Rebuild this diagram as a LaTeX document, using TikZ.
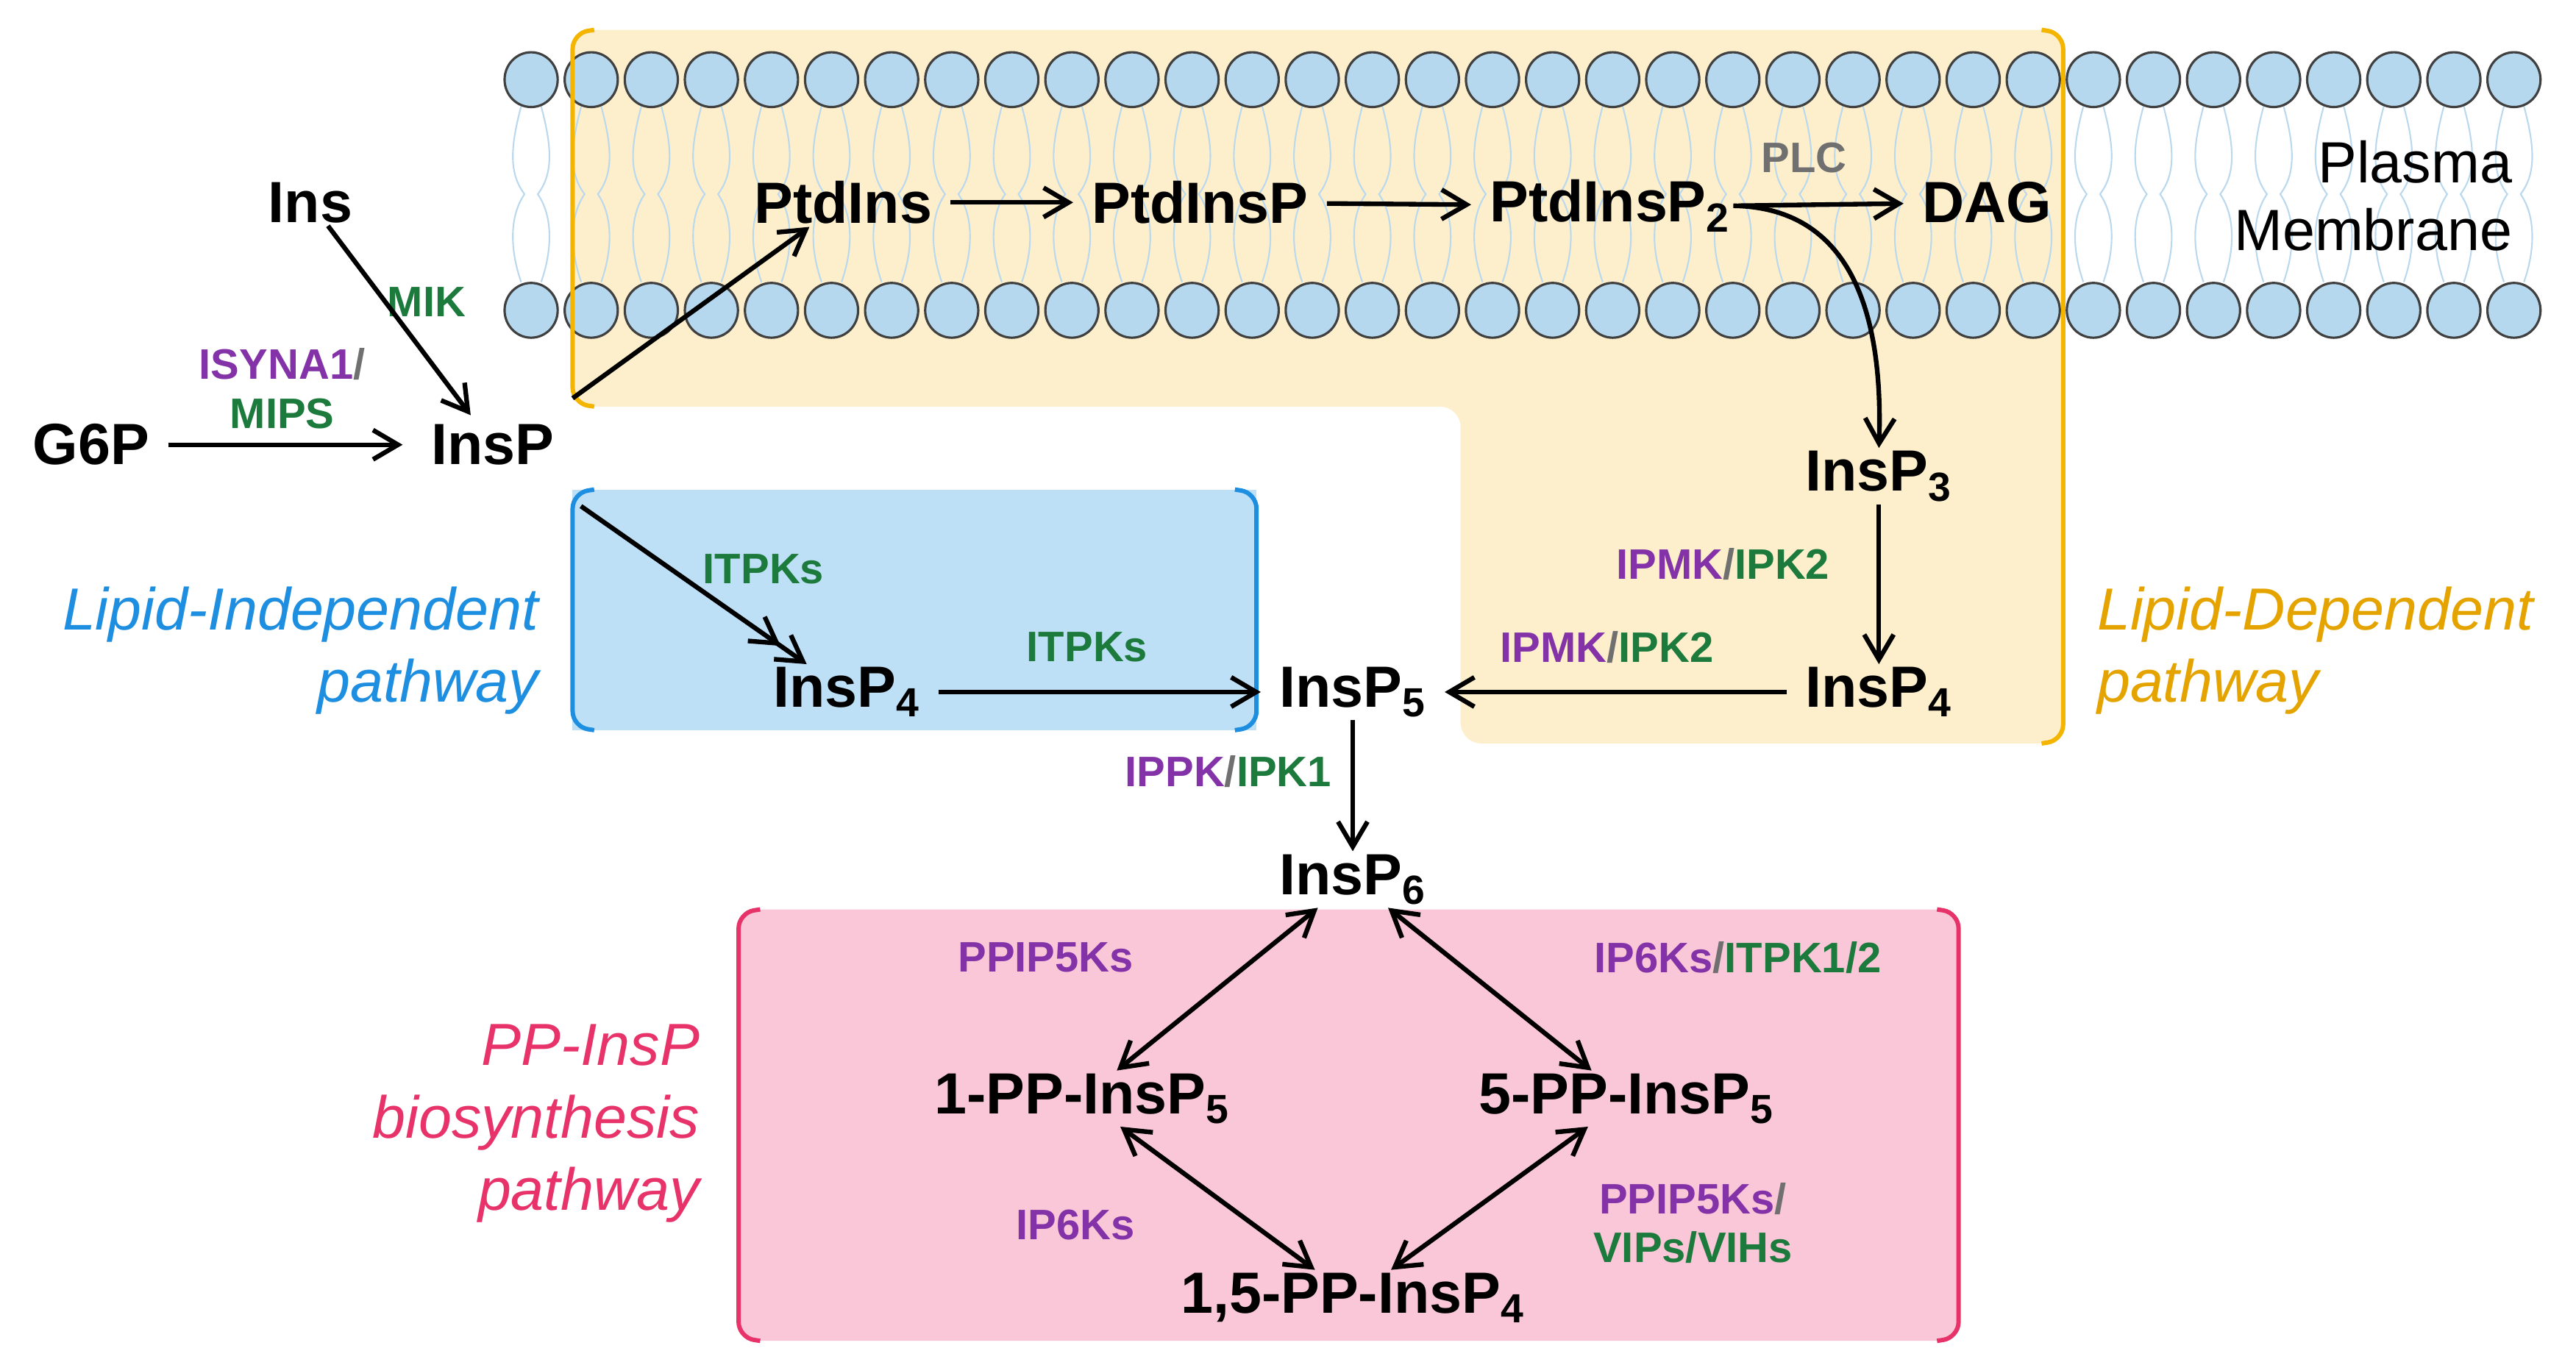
\documentclass[tikz,border=0pt]{standalone}
\usepackage{fontspec}
\setmainfont{Liberation Sans}
\usetikzlibrary{arrows.meta, positioning}
\definecolor{enzp}{HTML}{8332A8}
\definecolor{enzg}{HTML}{1B7A3C}
\definecolor{slashg}{HTML}{707070}
\definecolor{ldfill}{HTML}{FDEFCB}
\definecolor{ldline}{HTML}{F3B500}
\definecolor{ldtext}{HTML}{E5A300}
\definecolor{lifill}{HTML}{BEE0F6}
\definecolor{liline}{HTML}{1E8FE0}
\definecolor{ppfill}{HTML}{F9C7D7}
\definecolor{ppline}{HTML}{E8336A}
\definecolor{headfill}{HTML}{B5D8EE}
\definecolor{tail}{HTML}{BBD9EE}
\newcommand{\enzP}[1]{\textcolor{enzp}{#1}}
\newcommand{\enzG}[1]{\textcolor{enzg}{#1}}
\newcommand{\enzS}{\textcolor{slashg}{/}}

\tikzset{
  met/.style = {font=\fontsize{22.5}{26}\selectfont\bfseries, inner sep=1pt},
  enz/.style = {font=\fontsize{16.5}{19}\selectfont\bfseries, inner sep=1pt, align=center},
  path lbl/.style = {font=\fontsize{23}{28}\selectfont\itshape},
  rxn/.style = {-{Straight Barb[length=3.4mm,width=4mm]}, line width=1.8pt},
  rev/.style = {{Straight Barb[length=3.4mm,width=4mm]}-{Straight Barb[length=3.4mm,width=4mm]}, line width=1.8pt},
  bracket/.style = {line width=1.7pt, rounded corners=6pt},
}

\begin{document}
\begin{tikzpicture}[x=0.02257cm, y=-0.02257cm]
\useasboundingbox (0,0) rectangle (1552,814);

% shaded regions
\fill[ldfill, rounded corners=8pt] (345,18) -- (1243,18) -- (1243,448) -- (880,448) -- (880,245) -- (345,245) -- cycle;
\fill[lifill] (345,295) rectangle (757,440);
\fill[ppfill, rounded corners=8pt] (445,548) rectangle (1180,808);

% membrane
\foreach \i in {0,...,33} {
  \pgfmathsetmacro{\hx}{320+36.2*\i}
  \draw[tail, line width=0.6pt] (\hx-6,64) .. controls (\hx-13,90) and (\hx-13,105) .. (\hx-4,117)
                                  .. controls (\hx-13,130) and (\hx-13,150) .. (\hx-6,170);
  \draw[tail, line width=0.6pt] (\hx+6,64) .. controls (\hx+13,90) and (\hx+13,105) .. (\hx+4,117)
                                  .. controls (\hx+13,130) and (\hx+13,150) .. (\hx+6,170);
  \draw[fill=headfill, draw=black!75, line width=0.9pt] (\hx,48) ellipse [x radius=16, y radius=16.5];
  \draw[fill=headfill, draw=black!75, line width=0.9pt] (\hx,187) ellipse [x radius=16, y radius=16.5];
}

% brackets
\draw[bracket, ldline] (358,18) -- (345,20) -- (345,243) -- (358,245);
\draw[bracket, ldline] (1230,18) -- (1243,20) -- (1243,446) -- (1230,448);
\draw[bracket, liline] (358,295) -- (345,297) -- (345,438) -- (358,440);
\draw[bracket, liline] (744,295) -- (757,297) -- (757,438) -- (744,440);
\draw[bracket, ppline] (458,548) -- (445,550) -- (445,806) -- (458,808);
\draw[bracket, ppline] (1167,548) -- (1180,550) -- (1180,806) -- (1167,808);

% metabolites
\node[met] (ins)     at (187,122) {Ins};
\node[met] (g6p)     at (55,268)  {G6P};
\node[met] (insp)    at (297,268) {InsP};
\node[met] (ptdins)  at (508,122) {PtdIns};
\node[met] (ptdinsp) at (723,122) {PtdInsP};
\node[met] (ptdinsp2) at (970,124) {PtdInsP\textsubscript{2}};
\node[met] (dag)     at (1197,122) {DAG};
\node[met] (insp3)   at (1132,287) {InsP\textsubscript{3}};
\node[met] (insp4r)  at (1132,417) {InsP\textsubscript{4}};
\node[met] (insp5)   at (815,417) {InsP\textsubscript{5}};
\node[met] (insp4l)  at (510,417) {InsP\textsubscript{4}};
\node[met] (insp6)   at (815,530) {InsP\textsubscript{6}};
\node[met] (pp1)     at (652,662) {1-PP-InsP\textsubscript{5}};
\node[met] (pp5)     at (980,662) {5-PP-InsP\textsubscript{5}};
\node[met] (pp15)    at (815,782) {1,5-PP-InsP\textsubscript{4}};
\node[font=\fontsize{22.5}{26}\selectfont, align=right, anchor=east] (pm) at (1519,118) {Plasma\\Membrane};

% enzymes
\node[enz] (mik)   at (257,182) {\enzG{MIK}};
\node[enz] (isyna) at (170,234) {\enzP{ISYNA1}\enzS\\\enzG{MIPS}};
\node[enz] (plc)   at (1087,95) {\textcolor{slashg}{PLC}};
\node[enz] (itpk1) at (460,343) {\enzG{ITPKs}};
\node[enz] (itpk2) at (655,390) {\enzG{ITPKs}};
\node[enz] (ipmk1) at (1038,340) {\enzP{IPMK}\enzS\enzG{IPK2}};
\node[enz] (ipmk2) at (968,390) {\enzP{IPMK}\enzS\enzG{IPK2}};
\node[enz] (ippk)  at (740,465) {\enzP{IPPK}\enzS\enzG{IPK1}};
\node[enz] (ppip1) at (630,577) {\enzP{PPIP5Ks}};
\node[enz] (ip6k1) at (1047,577) {\enzP{IP6Ks}\enzS\enzG{ITPK1/2}};
\node[enz] (ip6k2) at (648,738) {\enzP{IP6Ks}};
\node[enz] (ppip2) at (1020,737) {\enzP{PPIP5Ks}\enzS\\\enzG{VIPs/VIHs}};

% pathway labels
\node[path lbl, liline, align=right, anchor=east] (lip) at (330,392) {Lipid-Independent\\pathway};
\node[path lbl, ldtext, align=left, anchor=west] (ldp) at (1258,392) {Lipid-Dependent\\pathway};
\node[path lbl, ppline, align=right, anchor=east] (ppp) at (427,677) {PP-InsP\\biosynthesis\\pathway};

% reactions
\coordinate (membin) at (345,240);
\coordinate (blin) at (350,305);
\draw[rxn, shorten >=3pt] (ins) -- (insp);
\draw[rxn, shorten <=6pt, shorten >=10pt] (g6p) -- (insp);
\draw[rxn] (membin) -- (ptdins);
\draw[rxn, shorten <=6pt, shorten >=6pt] (ptdins) -- (ptdinsp);
\draw[rxn, shorten <=6pt, shorten >=6pt] (ptdinsp) -- (ptdinsp2);
\draw[rxn, shorten <=2pt, shorten >=6pt] (ptdinsp2.east) -- (dag);
\draw[rxn] (ptdinsp2.east) .. controls (1110,125) and (1135,180) .. (insp3.north);
\draw[rxn] (insp3) -- (insp4r);
\draw[rxn, shorten <=6pt, shorten >=6pt] (insp4r) -- (insp5);
\draw[rxn, shorten <=6pt, shorten >=6pt] (insp4l) -- (insp5);
\draw[-{Straight Barb[length=3.4mm,width=4mm]Straight Barb[length=3.4mm,width=4mm]}, line width=1.8pt] (blin) -- (insp4l);
\draw[rxn] (insp5) -- (insp6);
\draw[rev] (insp6) -- (pp1);
\draw[rev] (insp6) -- (pp5);
\draw[rev] (pp1) -- (pp15);
\draw[rev] (pp5) -- (pp15);
\end{tikzpicture}
\end{document}
